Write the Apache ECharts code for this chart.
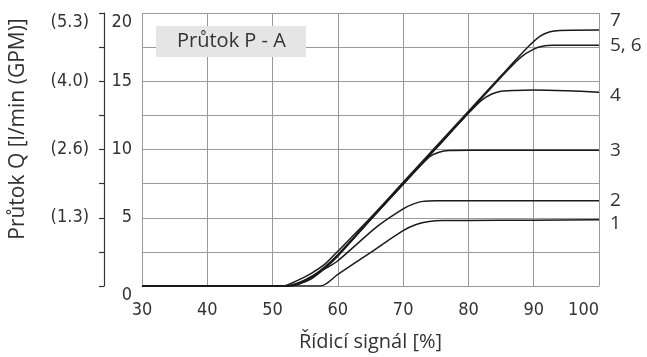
<!DOCTYPE html>
<html>
<head>
<meta charset="utf-8">
<style>
  html, body { margin: 0; padding: 0; background: #fff; }
  #chart { width: 647px; height: 357px; }
</style>
<script src="https://cdn.jsdelivr.net/npm/echarts@6/dist/echarts.min.js"></script>
</head>
<body>
<div id="chart"></div>
<script>
// Flow curves: [control signal %, flow l/min]
const curve1 = [[30, 0], [57.3, 0], [60, 0.85], [65, 2.45], [70, 4.05], [72, 4.5], [74, 4.72], [76, 4.79], [80, 4.8], [90, 4.82], [100, 4.85]];
const curve2 = [[30, 0], [52, 0], [54, 0.2], [56, 0.7], [58, 1.25], [60, 1.85], [66, 4.35], [70, 5.65], [71.5, 6.0], [73, 6.2], [75, 6.25], [100, 6.25]];
const curve3 = [[30, 0], [52.5, 0], [54, 0.15], [56, 0.6], [58, 1.3], [60, 2.2], [65, 4.85], [70, 7.45], [74, 9.45], [75.5, 9.8], [77, 9.93], [80, 9.95], [100, 9.95]];
const curve4 = [[30, 0], [52.5, 0], [54, 0.15], [56, 0.55], [58, 1.3], [60, 2.2], [65, 4.85], [70, 7.45], [75, 10.05], [80, 12.65], [82, 13.6], [83.5, 14.05], [85, 14.27], [87, 14.33], [90, 14.35], [95, 14.3], [100, 14.2]];
const curve56 = [[30, 0], [52, 0], [54, 0.25], [56, 0.7], [58, 1.4], [60, 2.3], [65, 4.9], [70, 7.5], [75, 10.1], [80, 12.7], [85, 15.3], [88, 16.75], [90, 17.35], [91.5, 17.58], [93, 17.63], [100, 17.63]];
const curve7 = [[30, 0], [51.5, 0], [54, 0.45], [56, 0.95], [58, 1.6], [60, 2.55], [65, 5.0], [70, 7.6], [75, 10.2], [80, 12.8], [85, 15.4], [89, 17.45], [91, 18.3], [92.5, 18.62], [94, 18.72], [100, 18.75]];

const curveNames = ['1', '2', '3', '4', '5, 6', '7'];
const flowTicks = [0, 5, 10, 15, 20];
const gpmTicks = [5, 10, 15, 20];
const gpmLabels = ['(1.3)', '(2.6)', '(4.0)', '(5.3)'];

const xTitle = 'Řídicí signál [%]';
const yTitle = 'Průtok Q [l/min (GPM)]';
const boxTitle = 'Průtok P - A';

const tickFont = "'Liberation Sans Narrow', 'DejaVu Sans Condensed', sans-serif";
const textFont = "'Open Sans', 'Noto Sans', sans-serif";
const ink = '#333';

function flowLabel(v) {
  return flowTicks.indexOf(v) < 0 ? '' : String(v);
}
function gpmLabel(v) {
  const i = gpmTicks.indexOf(v);
  return i < 0 ? '' : gpmLabels[i];
}

const curves = [curve1, curve2, curve3, curve4, curve56, curve7];
const endOffsets = [[0, 4], [0, 0], [0, 0], [0, 3], [0, 0], [0, -9]];

const chart = echarts.init(document.getElementById('chart'), null, { renderer: 'canvas' });

chart.setOption({
  animation: false,
  grid: { left: 142, right: 48, top: 13, bottom: 67.5 },
  xAxis: {
    type: 'value', min: 30, max: 100, interval: 10,
    name: xTitle, nameLocation: 'middle', nameGap: 46,
    nameTextStyle: { fontFamily: textFont, fontSize: 20, color: ink },
    axisLine: { show: true, lineStyle: { color: '#999', width: 1 } },
    axisTick: { show: false },
    axisLabel: { margin: 15, fontFamily: tickFont, fontSize: 18, color: ink, alignMaxLabel: 'right' },
    splitLine: { show: true, lineStyle: { color: '#999', width: 1 } }
  },
  yAxis: [
    {
      type: 'value', min: 0, max: 20, interval: 2.5,
      axisLine: { show: false },
      axisTick: { show: false },
      axisLabel: { margin: 10, fontFamily: tickFont, fontSize: 18, color: ink, formatter: flowLabel,
        verticalAlignMaxLabel: 'top', verticalAlignMinLabel: 'top' },
      splitLine: { show: true, lineStyle: { color: '#999', width: 1 } }
    },
    {
      type: 'value', min: 0, max: 20, interval: 2.5, position: 'left', offset: 38,
      axisLine: { show: true, lineStyle: { color: '#333', width: 1.2 } },
      axisTick: { show: true, inside: false, length: 5, lineStyle: { color: '#333', width: 1.2 } },
      axisLabel: { margin: 15, fontFamily: tickFont, fontSize: 18, color: ink, formatter: gpmLabel,
        verticalAlignMaxLabel: 'top' },
      splitLine: { show: false }
    }
  ],
  graphic: [
    { type: 'rect', shape: { x: 156, y: 26, width: 150, height: 31 }, style: { fill: '#e5e5e5' }, z: 10 },
    { type: 'text', x: 177, y: 41.5, z: 11,
      style: { text: boxTitle, font: '20px ' + textFont, fill: ink, textAlign: 'left', textVerticalAlign: 'middle' } },
    { type: 'text', x: 18, y: 129, rotation: Math.PI / 2, z: 11,
      style: { text: yTitle, font: '21px ' + textFont, fill: ink, textAlign: 'center', textVerticalAlign: 'middle' } }
  ],
  series: curves.map((data, i) => ({
    type: 'line',
    name: curveNames[i],
    data: data,
    xAxisIndex: 0, yAxisIndex: 0,
    smooth: 0.3,
    showSymbol: false,
    z: 5,
    lineStyle: { color: '#1a1a1a', width: 1.5 },
    endLabel: {
      show: true, formatter: curveNames[i], distance: 11, offset: endOffsets[i],
      fontFamily: textFont, fontSize: 19, color: ink
    }
  }))
});
</script>
</body>
</html>
